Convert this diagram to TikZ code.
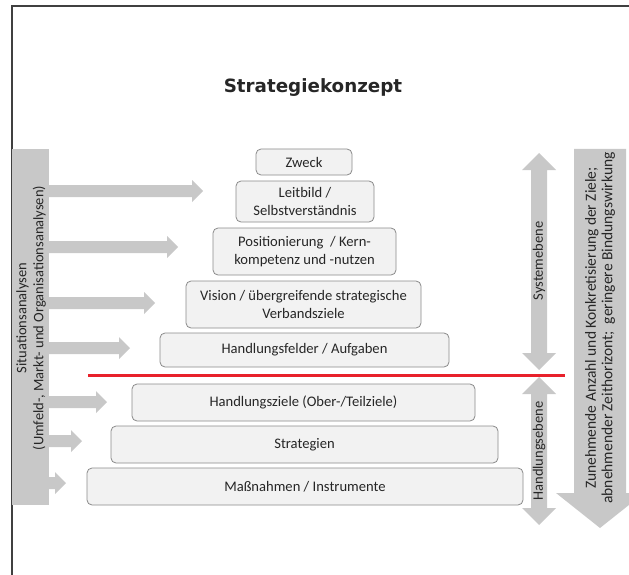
\documentclass[tikz,border=0pt]{standalone}
\usepackage{fontspec}
\setmainfont{Carlito}
\newfontfamily\titlefont{DejaVu Sans}
\definecolor{arrowgrey}{HTML}{C8C8C8}
\definecolor{boxfill}{HTML}{F2F2F2}
\definecolor{boxline}{HTML}{8A8A8A}
\definecolor{textc}{HTML}{262626}
\definecolor{framec}{HTML}{404040}
\definecolor{redline}{HTML}{E8212B}
\begin{document}
\begin{tikzpicture}[x=1pt,y=-1pt,
  box/.style={draw=boxline, fill=boxfill, rounded corners=5pt, line width=0.8pt,
    align=center, inner sep=0pt, text=textc, font=\fontsize{14.6}{18}\selectfont},
  greyshape/.style={fill=arrowgrey},
  sidetext/.style={rotate=90, align=center, text=textc, font=\fontsize{14.5}{17}\selectfont}]
\useasboundingbox (0,0) rectangle (629,575);
\clip (0,0) rectangle (629,575);
% frame
\draw[framec, line width=1.5pt] (12,580) -- (12,6) -- (640,6);
% title
\node[text=textc, font=\titlefont\bfseries\fontsize{18.3}{20}\selectfont] (title) at (313,88) {Strategiekonzept};
% boxes
\node[box, minimum width=96pt, minimum height=26pt] (zweck) at (304,162) {Zweck};
\node[box, minimum width=138pt, minimum height=41pt] (leitbild) at (305,201.5) {Leitbild /\\Selbstverständnis};
\node[box, minimum width=183pt, minimum height=47pt] (pos) at (304.5,251.5) {Positionierung~~/ Kern-\\kompetenz und -nutzen};
\node[box, minimum width=235pt, minimum height=47pt] (vision) at (303.5,304.5) {Vision / übergreifende strategische\\Verbandsziele};
\node[box, minimum width=289pt, minimum height=34pt] (felder) at (304.5,350) {Handlungsfelder / Aufgaben};
\node[box, minimum width=343pt, minimum height=37pt] (ziele) at (303.5,402.5) {Handlungsziele (Ober-/Teilziele)};
\node[box, minimum width=387pt, minimum height=37pt] (strat) at (304.5,444.5) {Strategien};
\node[box, minimum width=436pt, minimum height=37pt] (mass) at (305,486.5) {Maßnahmen / Instrumente};
% red separator
\coordinate (redL) at (88,375);
\coordinate (redR) at (565,375);
\draw[redline, line width=3pt] (redL) -- (redR);
% left bar
\fill[greyshape] (12,149) rectangle (49,505);
\node[sidetext] (sit) at (31,318) {Situationsanalysen\\(Umfeld-, Markt- und Organisationsanalysen)};
% left block arrows
\foreach \yy/\tt in {191/203, 247/178, 303/155, 348/130, 402/107, 441/82, 483/66} {
  \fill[greyshape] (48,{\yy-6}) -- ({\tt-11},{\yy-6}) -- ({\tt-11},{\yy-11}) -- (\tt,\yy)
    -- ({\tt-11},{\yy+11}) -- ({\tt-11},{\yy+6}) -- (48,{\yy+6}) -- cycle;
}
% Systemebene double arrow
\fill[greyshape] (539,153) -- (556,170) -- (547,170) -- (547,353) -- (556,353) -- (539,370)
  -- (522,353) -- (531,353) -- (531,170) -- (522,170) -- cycle;
\node[sidetext] (sys) at (539,261) {Systemebene};
% Handlungsebene double arrow
\fill[greyshape] (539,377) -- (556,394) -- (547,394) -- (547,508) -- (556,508) -- (539,525)
  -- (522,508) -- (531,508) -- (531,394) -- (522,394) -- cycle;
\node[sidetext] (hand) at (539,451) {Handlungsebene};
% big arrow right
\fill[greyshape] (574,149) -- (626,149) -- (626,493) -- (644,493) -- (600,528) -- (556,493)
  -- (574,493) -- cycle;
\node[sidetext, font=\fontsize{15.5}{16.5}\selectfont] (zun) at (600,328) {Zunehmende Anzahl und Konkretisierung der Ziele;\\abnehmender Zeithorizont;~~geringere Bindungswirkung};
\end{tikzpicture}
\end{document}
